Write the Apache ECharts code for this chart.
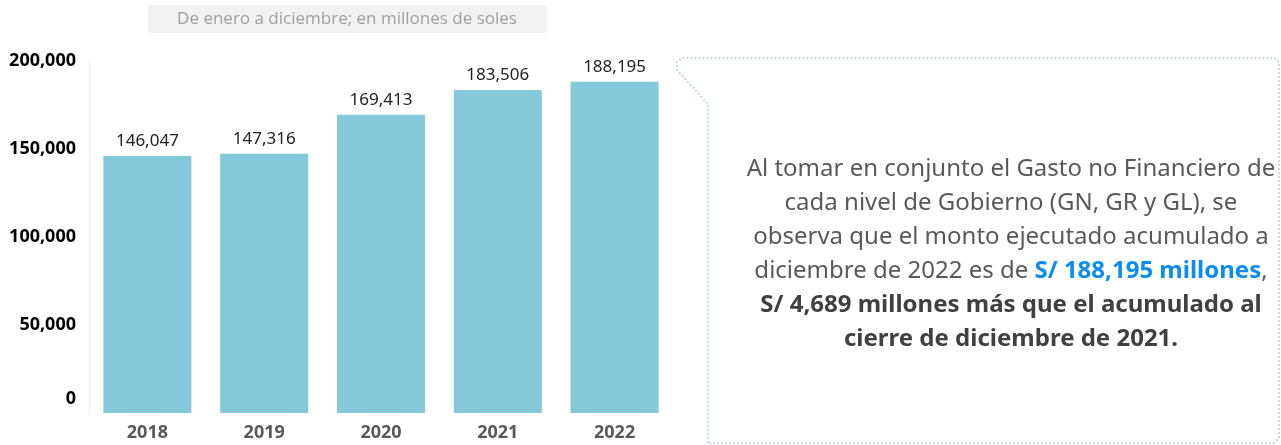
<!DOCTYPE html>
<html>
<head>
<meta charset="utf-8">
<script src="https://cdn.jsdelivr.net/npm/echarts@6/dist/echarts.min.js"></script>
<style>
  html, body { margin: 0; padding: 0; background: #fff; }
  #chart { width: 1281px; height: 445px; }
</style>
</head>
<body>
<div id="chart"></div>
<script>
const years = ['2018', '2019', '2020', '2021', '2022'];
const gastoNoFinanciero = [146047, 147316, 169413, 183506, 188195];
const yMax = 200000;
const yStep = 50000;

const font = '"Noto Sans", "Open Sans", sans-serif';
const fmt = v => v.toLocaleString('en-US');

const chart = echarts.init(document.getElementById('chart'), null, { renderer: 'canvas' });

chart.setOption({
  animation: false,
  grid: { left: 89, width: 584, top: 61, height: 352 },
  xAxis: {
    type: 'category',
    data: years,
    axisLine: { show: false },
    axisTick: { show: false },
    axisLabel: { color: '#595959', fontWeight: 'bold', fontSize: 18, fontFamily: font, margin: 11 }
  },
  yAxis: {
    type: 'value',
    min: 0,
    max: yMax,
    interval: yStep,
    splitLine: { show: false },
    axisLine: { show: true, lineStyle: { color: '#eeeeee', width: 1 } },
    axisTick: { show: false },
    axisLabel: {
      margin: 13,
      formatter: v => v === 0 ? '{z|0}' : '{n|' + fmt(v) + '}',
      rich: {
        n: { color: '#000', fontWeight: 'bold', fontSize: 18, fontFamily: font },
        z: { color: '#000', fontWeight: 'bold', fontSize: 18, fontFamily: font, padding: [0, 0, 28, 0] }
      }
    }
  },
  series: [{
    type: 'bar',
    data: gastoNoFinanciero,
    barWidth: 88,
    itemStyle: { color: '#84c8da' },
    label: {
      show: true,
      position: 'top',
      distance: 6,
      color: '#222',
      fontSize: 17,
      fontFamily: font,
      formatter: p => fmt(p.value)
    }
  }],
  graphic: [
    {
      type: 'rect',
      shape: { x: 148, y: 5, width: 399, height: 28 },
      style: { fill: '#f2f2f2' }
    },
    {
      type: 'text',
      x: 347, y: 19,
      style: {
        text: 'De enero a diciembre; en millones de soles',
        fill: '#a0a0a0', font: '17px "Open Sans", sans-serif',
        align: 'center', verticalAlign: 'middle'
      }
    },
    {
      type: 'polyline',
      shape: {
        points: [[708, 443], [708, 104], [677, 70], [677, 62], [682, 58], [1274, 58], [1279, 62], [1279, 438], [1274, 443], [708, 443]]
      },
      style: { fill: null, stroke: '#a7c6dd', lineWidth: 1.6, lineDash: [1.6, 2.4] }
    },
    {
      type: 'text',
      x: 1011, y: 254,
      style: {
        text: [
          '{r|Al tomar en conjunto el Gasto no Financiero de}',
          '{r|cada nivel de Gobierno (GN, GR y GL), se}',
          '{r|observa que el monto ejecutado acumulado a}',
          '{r|diciembre de 2022 es de }{b|S/ 188,195 millones}{r|,}',
          '{k|S/ 4,689 millones más que el acumulado al}',
          '{k|cierre de diciembre de 2021.}'
        ].join('\n'),
        align: 'center',
        verticalAlign: 'middle',
        rich: {
          r: { fontSize: 24, fontFamily: font, fontStyle: 'normal', fill: '#595959', lineHeight: 34 },
          b: { fontSize: 24, fontFamily: font, fontStyle: 'normal', fontWeight: 'bold', fill: '#0a8cf0', lineHeight: 34 },
          k: { fontSize: 24, fontFamily: font, fontStyle: 'normal', fontWeight: 'bold', fill: '#404040', lineHeight: 34 }
        }
      }
    }
  ]
});
</script>
</body>
</html>
